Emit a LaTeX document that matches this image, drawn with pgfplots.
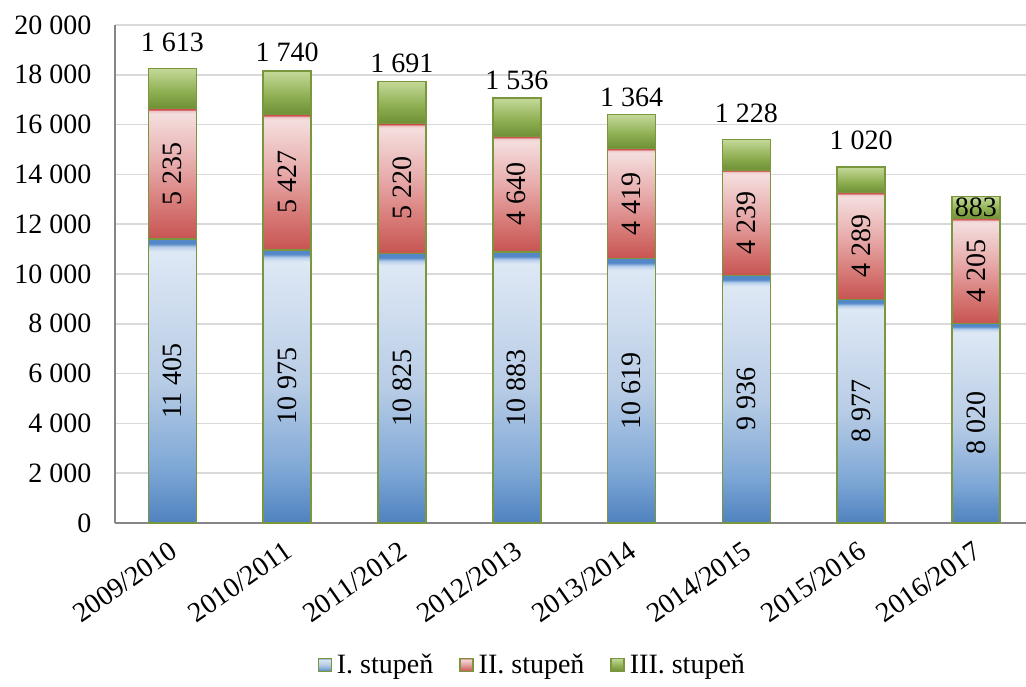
\documentclass[border=0pt]{standalone}
\usepackage{fontspec}
\setmainfont{Liberation Serif}
\usepackage{pgfplots}
\pgfplotsset{compat=1.18}

\definecolor{barline}{RGB}{122,151,62}
\definecolor{axisgray}{RGB}{134,134,134}
\definecolor{gridgray}{RGB}{217,217,217}

% Excel-like glossy gradients (25bp = bottom of bar, 75bp = top)
\pgfdeclareverticalshading{bluebar}{100bp}{
  rgb(0bp)=(0.30,0.50,0.74);
  rgb(25bp)=(0.31,0.51,0.75);
  rgb(35bp)=(0.50,0.66,0.84);
  rgb(50bp)=(0.72,0.80,0.90);
  rgb(72.8bp)=(0.87,0.91,0.96);
  rgb(73.6bp)=(0.72,0.81,0.92);
  rgb(74.2bp)=(0.33,0.53,0.78);
  rgb(100bp)=(0.33,0.53,0.78)}
\pgfdeclareverticalshading{redbar}{100bp}{
  rgb(0bp)=(0.78,0.33,0.32);
  rgb(25bp)=(0.78,0.33,0.32);
  rgb(40bp)=(0.85,0.50,0.49);
  rgb(55bp)=(0.91,0.68,0.68);
  rgb(73bp)=(0.96,0.87,0.87);
  rgb(74.2bp)=(0.93,0.78,0.78);
  rgb(74.6bp)=(0.80,0.30,0.30);
  rgb(100bp)=(0.80,0.30,0.30)}
\pgfdeclareverticalshading{greenbar}{100bp}{
  rgb(0bp)=(0.43,0.56,0.21);
  rgb(25bp)=(0.43,0.56,0.21);
  rgb(45bp)=(0.55,0.68,0.31);
  rgb(75bp)=(0.77,0.85,0.60);
  rgb(100bp)=(0.77,0.85,0.60)}

\pgfplotsset{
  baraxis/.style={
    scale only axis,
    width=911pt, height=498pt,
    ybar stacked, bar width=48pt,
    xmin=-0.5, xmax=7.436,
    ymin=0, ymax=20000,
    /pgf/number format/1000 sep={\ },
    /pgf/number format/assume math mode=true,
  },
  seg/.style={shade, draw=barline, line width=1.6pt, nodes near coords},
  % stacked labels sit in the middle of their segment: rotate them
  midlabel/.style={every node near coord/.style={font=\fontsize{28}{32}\selectfont,
      text=black, anchor=center, rotate=90}},
  % top label: #1 = offset above the bar top (pt), #2 = value
  toplabel/.style 2 args={every node near coord/.style={font=\fontsize{28}{32}\selectfont,
      text=black, anchor=center, yshift={#1pt+0.01245*#2pt}}},
}
% the three stacked segments of one column: x, I., II., III. stupen, label offset
\newcommand\segments[5]{%
  \addplot[seg, shading=bluebar, midlabel] coordinates {(#1,#2)};
  \addplot[seg, shading=redbar, midlabel] coordinates {(#1,#3)};
  \addplot[seg, shading=greenbar, toplabel={#5}{#4}] coordinates {(#1,#4)};
}
% every further column in its own (hidden) axis, so each bar gets its own gradient
\newcommand\stackbar[5]{%
  \begin{axis}[baraxis, hide axis]
  \segments{#1}{#2}{#3}{#4}{#5}
  \end{axis}}

\begin{document}
\begin{tikzpicture}[font=\fontsize{28}{32}\selectfont]
\begin{axis}[
  baraxis,
  ytick={0,2000,...,20000},
  scaled y ticks=false,
  xtick={0,...,7},
  xticklabels={2009/2010,2010/2011,2011/2012,2012/2013,2013/2014,2014/2015,2015/2016,2016/2017},
  xticklabel style={xshift=-3pt, yshift=-12pt, rotate=35, anchor=north east},
  yticklabel style={xshift=-20pt},
  x tick style={draw=none},
  y tick style={draw=none},
  extra x ticks={-0.5,0.5,...,6.5},
  extra x tick labels={},
  extra x tick style={tick align=outside, major tick length=7pt,
    tick style={draw=axisgray, line width=1.2pt}},
  axis x line*=bottom, axis y line*=left,
  axis line style={draw=axisgray, line width=1.5pt, -},
  ymajorgrids, grid style={draw=gridgray, line width=1.5pt},
  legend style={at={(rel axis cs:0.458,-0.285)}, anchor=center, draw=none,
    legend columns=-1, font=\fontsize{28}{32}\selectfont,
    /tikz/every even column/.append style={column sep=24pt}},
  legend image code/.code={\draw[#1, draw=barline, line width=1.2pt] (0pt,-6.5pt) rectangle (13pt,6.5pt);
    \path (16pt,0pt);},
]
\segments{0}{11405}{5235}{1613}{26}
\legend{I. stupeň, II. stupeň, III. stupeň}
\end{axis}
\stackbar{1}{10975}{5427}{1740}{19}
\stackbar{2}{10825}{5220}{1691}{18}
\stackbar{3}{10883}{4640}{1536}{18}
\stackbar{4}{10619}{4419}{1364}{17}
\stackbar{5}{9936}{4239}{1228}{26}
\stackbar{6}{8977}{4289}{1020}{27}
\stackbar{7}{8020}{4205}{883}{-11}
\pgfresetboundingbox
\path[use as bounding box] ([xshift=-115pt,yshift=-163pt]current axis.south west) rectangle ++(1026pt,686pt);
\end{tikzpicture}
\end{document}
